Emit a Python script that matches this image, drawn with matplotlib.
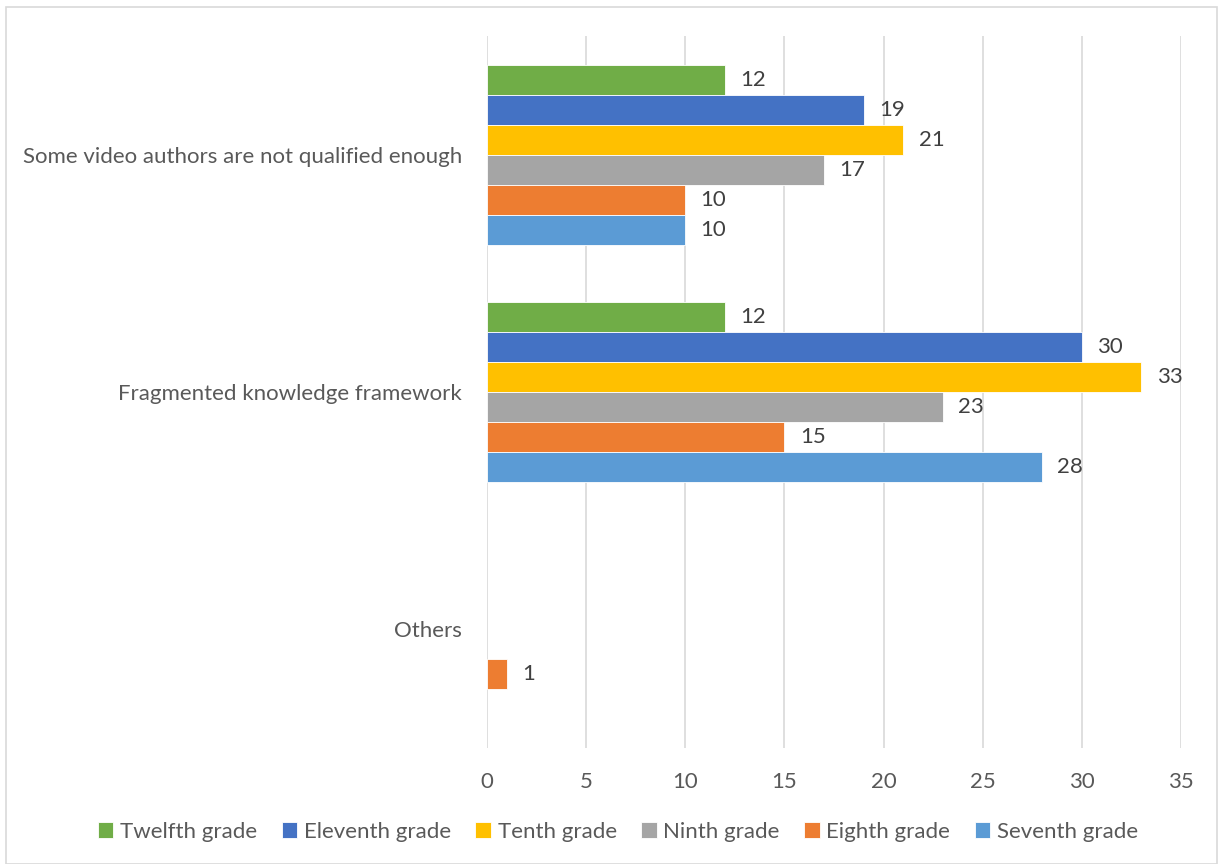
import matplotlib
matplotlib.use("Agg")
import matplotlib.pyplot as plt
from matplotlib.patches import Rectangle
import numpy as np

categories = ["Some video authors are not qualified enough",
              "Fragmented knowledge framework",
              "Others"]
series_names = ["Twelfth grade", "Eleventh grade", "Tenth grade",
                "Ninth grade", "Eighth grade", "Seventh grade"]
twelfth = [12, 12, 0]
eleventh = [19, 30, 0]
tenth = [21, 33, 0]
ninth = [17, 23, 0]
eighth = [10, 15, 1]
seventh = [10, 28, 0]
x_ticks = [0, 5, 10, 15, 20, 25, 30, 35]

values = [twelfth, eleventh, tenth, ninth, eighth, seventh]
colors = ["#70AD47", "#4472C4", "#FFC000", "#A5A5A5", "#ED7D31", "#5B9BD5"]

plt.rcParams['font.family'] = ['Lato', 'DejaVu Sans']
text_color = "#595959"
fs = 16

fig = plt.figure(figsize=(12.18, 8.64), dpi=100)
fig.patches.append(Rectangle((6/1218, 0), 1 - 7/1218, 1 - 7/864, transform=fig.transFigure,
                             fill=False, edgecolor="#D9D9D9", linewidth=1.2))
ax = fig.add_axes([487/1218, 1 - 748/864, (1181 - 487)/1218, (748 - 36)/864])

h = 30 / 237.3
y = np.arange(len(categories))
handles = []
for i, (name, vals, c) in enumerate(zip(series_names, values, colors)):
    pos = y + (i - 2.5) * h
    bars = ax.barh(pos, vals, height=h, color=c, edgecolor="white", linewidth=0.6,
                   label=name, zorder=3)
    handles.append(bars)
    for b, p, v in zip(bars, pos, vals):
        if v == 0:
            b.set_linewidth(0)
        else:
            ax.annotate(str(v), (v, p), xytext=(11, 0), textcoords="offset points",
                        va="center", ha="left", fontsize=fs, color="#404040")

ax.set_ylim(-0.5, 2.5)
ax.invert_yaxis()
ax.set_xlim(0, 35)
ax.set_xticks(x_ticks)
ax.set_yticks(y)
ax.set_yticklabels(categories)
ax.tick_params(axis="both", length=0, labelsize=fs, colors=text_color)
ax.tick_params(axis="y", pad=18)
ax.tick_params(axis="x", pad=17)
ax.grid(axis="x", color="#D9D9D9", linewidth=1.2, zorder=0)
for s in ax.spines.values():
    s.set_visible(False)

leg = fig.legend(handles=handles, labels=series_names, loc="center",
                 bbox_to_anchor=(0.5 + 9/1218, 1 - 832/864), ncol=6, frameon=False,
                 fontsize=fs, handlelength=0.7, handleheight=0.7, handletextpad=0.3,
                 columnspacing=1.1)
for t in leg.get_texts():
    t.set_color(text_color)

fig.savefig("out.png", dpi=100)
